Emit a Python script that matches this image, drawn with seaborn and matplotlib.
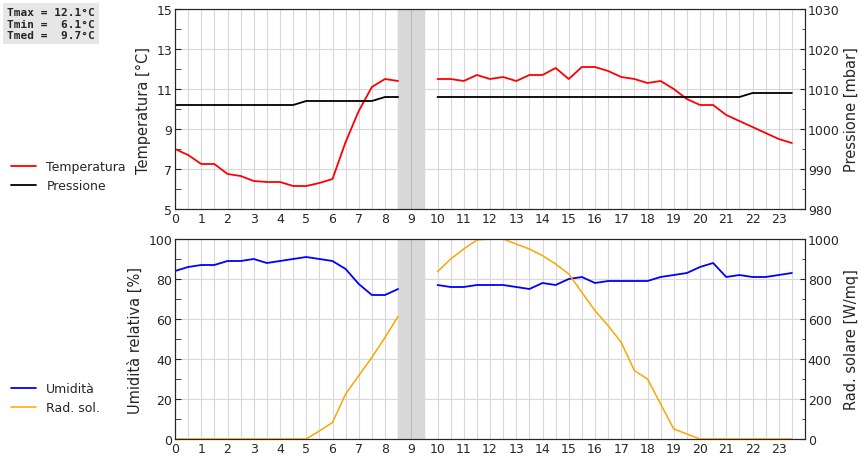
import numpy as np
import pandas as pd
import matplotlib
matplotlib.use("Agg")
import matplotlib.pyplot as plt
import seaborn as sns

hours_a = [0,0.5,1,1.5,2,2.5,3,3.5,4,4.5,5,5.5,6,6.5,7,7.5,8,8.5]
hours_b = [10,10.5,11,11.5,12,12.5,13,13.5,14,14.5,15,15.5,16,16.5,17,17.5,18,18.5,19,19.5,20,20.5,21,21.5,22,22.5,23,23.5]
temp_a = [8.0,7.7,7.25,7.25,6.75,6.65,6.4,6.35,6.35,6.15,6.15,6.3,6.5,8.35,9.9,11.1,11.5,11.4]
temp_b = [11.5,11.5,11.4,11.7,11.5,11.6,11.4,11.7,11.7,12.05,11.5,12.1,12.1,11.9,11.6,11.5,11.3,11.4,11.0,10.5,10.2,10.2,9.7,9.4,9.1,8.8,8.5,8.3]
pres_a = [1006]*10 + [1007]*6 + [1008,1008]
pres_b = [1008]*24 + [1009]*4
hum_a = [84,86,87,87,89,89,90,88,89,90,91,90,89,85,77.5,72,72,75]
hum_b = [77,76,76,77,77,77,76,75,78,77,80,81,78,79,79,79,79,81,82,83,86,88,81,82,81,81,82,83]
rad_a = [0,0,0,0,0,0,0,0,0,0,0,40,83,225,317,408,508,613]
rad_b = [837,900,950,995,1000,1000,975,950,917,875,825,733,642,567,483,342,300,175,50,25,0,0,0,0,0,0,0,0]
stats = ["Tmax = 12.1°C", "Tmin =  6.1°C", "Tmed =  9.7°C"]

sns.set_style("white")
fig = plt.figure(figsize=(8.6, 4.6), dpi=100)
ax1 = fig.add_axes([175/860, 1-210/460, 630/860, 200/460])
ax2 = fig.add_axes([175/860, 1-440/460, 630/860, 200/460])

def style(ax, ylim, major, minor):
    ax.set_xlim(0, 24)
    ax.set_ylim(*ylim)
    ax.set_xticks(range(0, 24))
    ax.set_xticks(np.arange(0.5, 24, 0.5), minor=True)
    ax.set_yticks(major)
    ax.set_yticks(minor, minor=True)
    ax.grid(True, which="both", axis="x", color="#d8d8d8", lw=0.8)
    ax.grid(True, which="major", axis="y", color="#d8d8d8", lw=0.8)
    ax.tick_params(labelsize=9, length=4, direction="in", which="both", pad=2)
    ax.axvspan(8.5, 9.5, color="#d8d8d8", zorder=1)
    ax.axvline(9, color="#bbbbbb", lw=0.8, zorder=1)

style(ax1, (5, 15), [5,7,9,11,13,15], [6,8,10,12,14])
style(ax2, (0, 100), [0,20,40,60,80,100], [10,30,50,70,90])
ax1.set_ylabel("Temperatura [°C]", fontsize=10.5, labelpad=4)
ax2.set_ylabel("Umidità relativa [%]", fontsize=10.5, labelpad=4)

ax1r = ax1.twinx()
ax1r.set_ylim(980, 1030)
ax1r.set_yticks([980,990,1000,1010,1020,1030])
ax1r.set_yticks([985,995,1005,1015,1025], minor=True)
ax1r.set_ylabel("Pressione [mbar]", fontsize=10.5, labelpad=3)
ax1r.tick_params(labelsize=9, direction="in", which="both", pad=2)
ax2r = ax2.twinx()
ax2r.set_ylim(0, 1000)
ax2r.set_yticks([0,200,400,600,800,1000])
ax2r.set_yticks([100,300,500,700,900], minor=True)
ax2r.set_ylabel("Rad. solare [W/mq]", fontsize=10.5, labelpad=3)
ax2r.tick_params(labelsize=9, direction="in", which="both", pad=2)

for h, t, p, u, r, lab in [(hours_a, temp_a, pres_a, hum_a, rad_a, True), (hours_b, temp_b, pres_b, hum_b, rad_b, False)]:
    sns.lineplot(x=h, y=t, ax=ax1, color="red", lw=1.3, label="Temperatura" if lab else None, legend=False)
    sns.lineplot(x=h, y=p, ax=ax1r, color="black", lw=1.3, label="Pressione" if lab else None, legend=False)
    sns.lineplot(x=h, y=u, ax=ax2, color="blue", lw=1.3, label="Umidità" if lab else None, legend=False)
    sns.lineplot(x=h, y=r, ax=ax2r, color="orange", lw=1.1, label="Rad. sol." if lab else None, legend=False)

h1, l1 = ax1.get_legend_handles_labels(); h2, l2 = ax1r.get_legend_handles_labels()
fig.legend(h1+h2, l1+l2, loc="upper left", bbox_to_anchor=(0, 1-150/460), frameon=False, fontsize=9, handlelength=2)
h3, l3 = ax2.get_legend_handles_labels(); h4, l4 = ax2r.get_legend_handles_labels()
fig.legend(h3+h4, l3+l4, loc="upper left", bbox_to_anchor=(0, 1-372/460), frameon=False, fontsize=9, handlelength=2)

fig.text(0.008, 1-8/460, "\n".join(stats), family="DejaVu Sans Mono", fontsize=8, fontweight="bold", va="top",
         bbox=dict(facecolor="#e6e6e6", edgecolor="none", pad=3))
fig.savefig("out.png", dpi=100)
